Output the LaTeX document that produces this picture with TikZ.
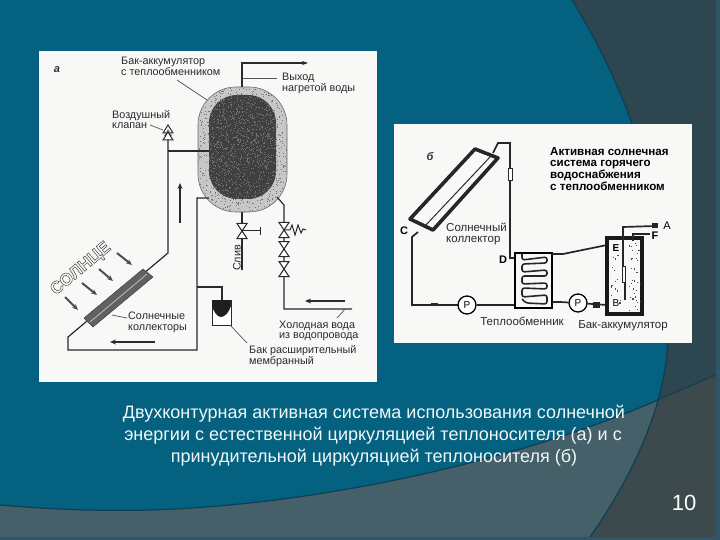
\documentclass[tikz,border=0pt]{standalone}
\usepackage{fontspec}
\setmainfont{Liberation Sans}
\usetikzlibrary{arrows.meta}
\definecolor{tealbg}{HTML}{04617F}
\definecolor{darkbg}{HTML}{2E464F}
\definecolor{slatebg}{HTML}{46606A}
\definecolor{cornerbg}{HTML}{3C494D}
\definecolor{bandbg}{HTML}{2F5566}
\definecolor{edgeln}{HTML}{0E3F55}
\definecolor{paper}{HTML}{F8F8F6}
\definecolor{ink}{HTML}{2A2A2A}
\definecolor{capt}{HTML}{F2F8F8}
\newcommand{\outlined}[1]{\special{pdf:code 1 Tr 0.4 w}#1\special{pdf:code 0 Tr 1 w}}
\tikzset{
  x=1pt,y=-1pt,
  pipe/.style={draw=ink,line width=1.2pt},
  heavy/.style={draw=black!85,line width=1.7pt},
  leader/.style={draw=ink!80,line width=0.7pt},
  flow/.style={draw=ink,line width=1.1pt,-{Stealth[length=6pt,width=5pt]}},
  sunray/.style={draw=black!70,line width=2pt,-{Stealth[length=6pt,width=5pt]}},
  lab/.style={inner sep=0pt,anchor=west,text=ink,align=left,font=\fontsize{10.8}{10.8}\selectfont},
  labr/.style={inner sep=0pt,anchor=west,text=ink,align=left,font=\fontsize{11.5}{11}\selectfont},
  labbold/.style={inner sep=0pt,anchor=north west,text=black,align=left,font=\bfseries\fontsize{11.6}{11.8}\selectfont},
  letter/.style={inner sep=0pt,text=black,font=\fontsize{11}{11}\selectfont},
  tagletter/.style={inner sep=0pt,text=black!80,font=\itshape\bfseries\fontsize{11}{11}\selectfont},
  capline/.style={inner sep=0pt,text=capt,font=\fontsize{18}{18}\selectfont},
  pump/.style={circle,draw=black,fill=white,line width=1.3pt,minimum size=18pt,inner sep=0pt,font=\fontsize{10}{10}\selectfont},
  vvalve/.pic={\draw[draw=ink,fill=white,line width=1pt] (-5,-7.5)--(5,-7.5)--(-5,7.5)--(5,7.5)--cycle;}
}
\begin{document}
\begin{tikzpicture}
\useasboundingbox (0,0) rectangle (720,540);
% ---------- background
\fill[bandbg] (0,0) rectangle (720,540);
\fill[darkbg] (0,0) rectangle (716,536);
\begin{scope}
  \clip (0,0) rectangle (716,536);
  \fill[cornerbg] (720,373) -- (658,400) .. controls (630,480) and (610,510) .. (588,540) -- (720,540) -- cycle;
  \fill[slatebg] (0,505) .. controls (60,510) and (100,511) .. (150,510)
     .. controls (320,505) and (520,460) .. (658,400)
     .. controls (635,470) and (612,505) .. (588,540) -- (0,540) -- cycle;
  \fill[tealbg] (0,0) -- (572,0) .. controls (640,110) and (672,230) .. (668,340)
     .. controls (667,362) and (663,382) .. (658,400)
     .. controls (520,460) and (320,505) .. (150,510)
     .. controls (100,511) and (60,510) .. (0,505) -- cycle;
  \draw[edgeln,line width=1.2pt] (572,0) .. controls (640,110) and (672,230) .. (668,340)
     .. controls (665,410) and (630,480) .. (588,540);
  \draw[edgeln,line width=1.2pt] (0,505) .. controls (60,510) and (100,511) .. (150,510)
     .. controls (320,505) and (520,460) .. (658,400) .. controls (680,390) and (700,382) .. (720,373);
\end{scope}
% ---------- panels
\fill[paper] (39,51) rectangle (377,382);
\fill[paper] (394,124) rectangle (692,343);
% ---------- panel a: tank
\fill[black!22,draw=ink!70,line width=0.6pt,rounded corners=38pt] (198,87) rectangle (287,212);
\begin{scope}
  \clip[rounded corners=38pt] (198,87) rectangle (287,212);
  \pgfmathsetseed{7}
  \foreach \i in {1,...,900}{\fill[black!55] ({198+rnd*89},{87+rnd*125}) rectangle +(1,1);}
\end{scope}
\fill[black!75,rounded corners=28pt] (209,95) rectangle (276,199);
\begin{scope}
  \clip[rounded corners=28pt] (209,95) rectangle (276,199);
  \pgfmathsetseed{11}
  \foreach \i in {1,...,1100}{\fill[black!55] ({209+rnd*67},{95+rnd*104}) rectangle +(1,1);}
\end{scope}
% ---------- panel a: pipes
\coordinate (vtop) at (168,140);
\coordinate (tapin) at (209,151);
\coordinate (tapv) at (168,151);
\coordinate (cbend) at (168,253);
\coordinate (cend) at (68,337);
\coordinate (cbot) at (68,350);
\coordinate (rbot) at (197,350);
\coordinate (rtop) at (197,198);
\coordinate (coilr) at (277,197);
\coordinate (coilb) at (284,205);
\coordinate (coldc) at (284,309);
\coordinate (coldr) at (352,309);
\coordinate (outb) at (242,87);
\coordinate (outc) at (242,63);
\coordinate (oute) at (308,63);
\coordinate (draint) at (242,212);
\coordinate (drainb) at (242,270);
\path[pipe] (vtop) -- (cbend) -- (cend) -- (cbot) -- (rbot) -- (rtop) -- (209,198);
\path[pipe] (tapv) -- (tapin);
\path[pipe] (coilr) -- (coilb) -- (coldc) -- (coldr);
\draw[draw=ink,line width=1.2pt,-{Stealth[length=6pt,width=4pt]}] (outb) -- (outc) -- (oute);
\path[pipe] (draint) -- (drainb);
\draw[draw=ink,line width=1pt] (242,231) -- (260,231) (260,227) -- (260,235);
\draw[draw=ink,line width=1pt] (284,230) -- (290,230) -- (292,225) -- (295,235) -- (298,225) -- (301,233) -- (303,229) -- (306,230);
\pic at (242,231) {vvalve};
\pic at (284,230) {vvalve};
\pic at (284,249) {vvalve};
\pic at (284,269) {vvalve};
% air valve
\draw[draw=ink,fill=white,line width=1pt] (168,125) -- (173,133) -- (163,133) -- cycle;
\fill[black!55] (168,129) -- (172,136) -- (164,136) -- cycle;
\draw[draw=ink,fill=white,line width=1pt] (163,140) -- (168,132) -- (173,140) -- cycle;
% collector
\fill[black!62,draw=black!75,line width=0.5pt] (143,269) -- (153,277) -- (93,327) -- (84,318) -- cycle;
\draw[black!25,line width=0.8pt] (147,274) -- (90,322);
% rays
\path[sunray] (65,297) -- (78,310);
\path[sunray] (82,283) -- (97,295);
\path[sunray] (99,269) -- (113,281);
\path[sunray] (117,253) -- (132,265);
% flow arrows
\path[flow] (180,223) -- (180,183);
\path[flow] (155,342) -- (110,342);
\path[flow] (345,301) -- (305,301);
% expansion tank
\path[pipe] (197,287) -- (222,287) -- (222,300);
\draw[draw=ink,fill=white,line width=1pt] (212,300) rectangle (231,325);
\fill[black!88] (212,300) -- (231,300) -- (231,306) .. controls (229,312) and (225,317) .. (221,317) .. controls (217,317) and (214,312) .. (212,306) -- cycle;
% leaders
\path[leader] (177,80) -- (207,100);
\path[leader] (242,78) -- (277,78);
\path[leader] (150,125) -- (163,130);
\path[leader] (112,315) -- (127,318);
\path[leader] (230,325) -- (247,343);
\path[leader] (345,309) -- (337,318);
% labels a
\node[tagletter] (tagA) at (57,70) {а};
\node[lab] (l1) at (121,66) {Бак-аккумулятор\\с теплообменником};
\node[lab] (l2) at (282,83.5) {Выход\\нагретой воды};
\node[lab] (l3) at (112,119.5) {Воздушный\\клапан};
\node[lab,rotate=90,anchor=center] (l4) at (237,258) {Слив};
\node[lab] (l5) at (128,322.5) {Солнечные\\коллекторы};
\node[lab] (l6) at (279,331) {Холодная вода\\из водопровода};
\node[lab] (l7) at (249,356.5) {Бак расширительный\\мембранный};
\node[inner sep=0pt,rotate=40,text=black!85,font=\bfseries\fontsize{17}{17}\selectfont] (sun) at (81,269) {\outlined{СОЛНЦЕ}};
% ---------- panel b
\coordinate (bt1) at (493,153);
\coordinate (bt2) at (498,143);
\coordinate (bt3) at (510,143);
\coordinate (bD) at (510,258);
\path[heavy] (bt1) -- (bt2) -- (bt3) -- (bD) -- (515,258);
\draw[draw=ink,fill=white,line width=0.8pt] (508,168) rectangle (512,180);
% collector b
\draw[draw=black!85,line width=3.6pt,fill=paper,line join=round] (475,149) -- (498,158) -- (433,230) -- (410,219) -- cycle;
\draw[draw=ink,line width=1pt] (491,156) -- (425,226);
\draw[heavy] (418,232) -- (412,237) -- (412,305) -- (458,305);
\fill[ink] (431,303) rectangle (438,306);
% exchanger
\node[pump] (p1) at (467,305) {P};
\node[pump] (p2) at (578,303) {P};
\coordinate (exl) at (515,305);
\path[heavy] (p1) -- (exl);
\draw[draw=black,line width=1.7pt,fill=paper] (515,253) rectangle (552,308);
\draw[draw=black!85,line width=1.6pt,rounded corners=2.5pt] (522,254) -- (522,260) -- (547,257) -- (547,263) -- (522,264) -- (522,272) -- (547,270) -- (547,276) -- (522,276) -- (522,284) -- (547,283) -- (547,289) -- (522,288) -- (522,297) -- (547,295) -- (547,304) -- (526,303) -- (522,299);
\path[heavy] (552,254) -- (563,254) -- (607,245);
\path[heavy] (552,302) -- (560,302) -- (p2);
\path[heavy] (p2) -- (607,305);
\fill[black!85] (593,302) rectangle (600,308);
% accumulator
\draw[draw=black!90,line width=3.6pt,fill=paper] (607,238) rectangle (642,314);
\path[heavy] (625,300) -- (625,270);
\draw[draw=ink,line width=1pt,fill=paper] (622,266) rectangle (625,282);
\path[heavy] (623,266) -- (623,227) -- (655,226);
\fill[black!85] (652,223) rectangle (658,228);
\path[heavy] (633,241) -- (633,234) -- (650,234);
\pgfmathsetseed{5}
\foreach \i in {1,...,34}{\fill[black!70] ({628+rnd*12},{242+rnd*68}) rectangle +(1.2,1.2);}
\foreach \i in {1,...,16}{\fill[black!70] ({610+rnd*11},{255+rnd*50}) rectangle +(1.2,1.2);}
% labels b
\node[tagletter] (tagB) at (430,157) {б};
\node[labbold] (b1) at (550,147) {Активная солнечная\\система горячего\\водоснабжения\\с теплообменником};
\node[labr] (b2) at (446,233.5) {Солнечный\\коллектор};
\node[labr,anchor=center] (b3) at (522,321) {Теплообменник};
\node[labr,anchor=center] (b4) at (623,326) {Бак-аккумулятор};
\node[letter] (lA) at (667,226) {A};
\node[letter,font=\bfseries\fontsize{11}{11}\selectfont] (lF) at (655,236) {F};
\node[letter,font=\bfseries\fontsize{10}{10}\selectfont] (lE) at (616,248) {E};
\node[letter,font=\fontsize{10}{10}\selectfont] (lB) at (616,303) {B};
\node[letter,font=\bfseries\fontsize{11}{11}\selectfont] (lC) at (404,231) {C};
\node[letter,font=\bfseries\fontsize{11}{11}\selectfont] (lD) at (503,260) {D};
% ---------- caption
\node[capline] (c1) at (374,414) {Двухконтурная активная система использования солнечной};
\node[capline] (c2) at (373,436) {энергии с естественной циркуляцией теплоносителя (а) и с};
\node[capline] (c3) at (374,458) {принудительной циркуляцией теплоносителя (б)};
\node[inner sep=0pt,text=white,font=\fontsize{22}{22}\selectfont] (num) at (684,503) {10};
\end{tikzpicture}
\end{document}
